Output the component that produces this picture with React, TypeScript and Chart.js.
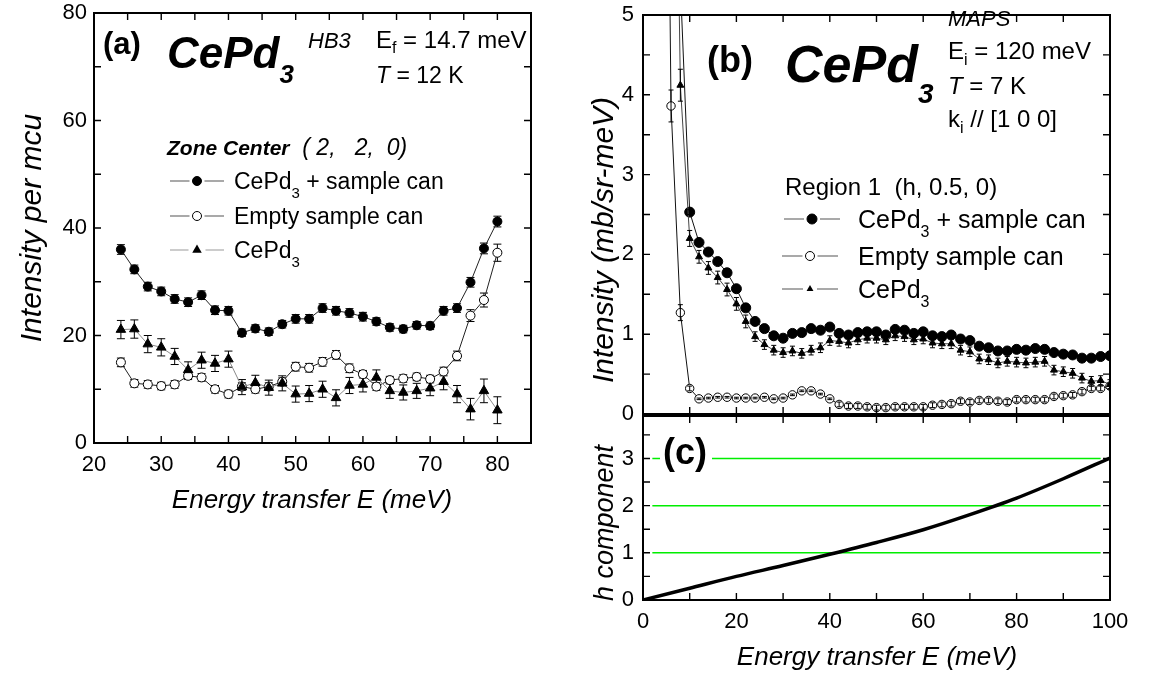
import React, { useEffect, useRef } from 'react';
import { Chart, registerables } from 'chart.js';

Chart.register(...registerables);

const FONT = "'Liberation Sans', Arial, Helvetica, sans-serif";

// ---------- Panel (a): HB3, zone center (2, 2, 0) ----------
const energyA = [24, 26, 28, 30, 32, 34, 36, 38, 40, 42, 44, 46, 48, 50, 52, 54, 56, 58, 60, 62, 64, 66, 68, 70, 72, 74, 76, 78, 80];
const sampleCanA = [36.0, 32.3, 29.1, 28.2, 26.8, 26.2, 27.5, 24.7, 24.6, 20.5, 21.3, 20.7, 22.1, 23.1, 23.1, 25.1, 24.6, 24.2, 23.5, 22.6, 21.5, 21.2, 21.9, 21.8, 24.6, 25.1, 29.9, 36.2, 41.2];
const sampleCanErrA = [0.9, 0.8, 0.8, 0.8, 0.8, 0.8, 0.8, 0.8, 0.8, 0.7, 0.7, 0.7, 0.7, 0.8, 0.8, 0.8, 0.8, 0.8, 0.8, 0.7, 0.7, 0.7, 0.7, 0.7, 0.8, 0.8, 0.9, 1.0, 1.0];
const emptyCanA = [15.0, 11.1, 10.9, 10.6, 10.9, 12.5, 12.2, 10.0, 9.1, 10.5, 10.0, 10.5, 11.4, 14.2, 14.0, 15.1, 16.4, 13.9, 12.8, 10.5, 11.7, 12.0, 12.3, 11.9, 13.3, 16.2, 23.7, 26.6, 35.4];
const emptyCanErrA = [0.8, 0.7, 0.7, 0.7, 0.7, 0.7, 0.7, 0.7, 0.7, 0.7, 0.7, 0.7, 0.7, 0.8, 0.8, 0.8, 0.8, 0.8, 0.7, 0.7, 0.7, 0.7, 0.7, 0.7, 0.8, 0.9, 1.1, 1.3, 1.6];
const cePd3A = [21.1, 21.2, 18.4, 17.8, 16.1, 13.6, 15.4, 14.8, 15.6, 10.4, 11.2, 10.3, 11.1, 9.1, 9.2, 10.0, 8.4, 10.7, 10.9, 12.2, 9.7, 9.4, 9.7, 10.2, 11.4, 9.1, 6.3, 9.7, 6.1];
const cePd3ErrA = [1.7, 1.7, 1.6, 1.6, 1.5, 1.5, 1.5, 1.5, 1.5, 1.4, 1.4, 1.4, 1.4, 1.5, 1.5, 1.5, 1.5, 1.5, 1.4, 1.4, 1.4, 1.4, 1.4, 1.4, 1.5, 1.6, 2.0, 2.2, 2.5];
const ticksAx = [20, 25, 30, 35, 40, 45, 50, 55, 60, 65, 70, 75, 80, 85];
const ticksAy = [0, 10, 20, 30, 40, 50, 60, 70, 80];

// ---------- Panel (b): MAPS, region 1 (h, 0.5, 0) ----------
const energyB = [4, 6, 8, 10, 12, 14, 16, 18, 20, 22, 24, 26, 28, 30, 32, 34, 36, 38, 40, 42, 44, 46, 48, 50, 52, 54, 56, 58, 60, 62, 64, 66, 68, 70, 72, 74, 76, 78, 80, 82, 84, 86, 88, 90, 92, 94, 96, 98, 100];
const sampleCanB = [null, null, 5.4, 2.53, 2.15, 2.03, 1.91, 1.77, 1.57, 1.33, 1.16, 1.07, 0.98, 0.95, 1.01, 1.02, 1.07, 1.05, 1.09, 1.01, 0.99, 1.02, 1.03, 1.03, 0.99, 1.06, 1.05, 1.01, 1.03, 0.98, 0.97, 0.99, 0.94, 0.92, 0.85, 0.83, 0.79, 0.79, 0.81, 0.80, 0.82, 0.81, 0.77, 0.75, 0.74, 0.70, 0.70, 0.72, 0.73];
const sampleCanErrB = [0, 0, 0.05, 0.03, 0.02, 0.02, 0.02, 0.02, 0.02, 0.02, 0.02, 0.02, 0.02, 0.02, 0.02, 0.02, 0.02, 0.02, 0.02, 0.02, 0.02, 0.02, 0.02, 0.02, 0.02, 0.02, 0.02, 0.02, 0.02, 0.02, 0.02, 0.02, 0.02, 0.02, 0.02, 0.02, 0.02, 0.02, 0.02, 0.02, 0.02, 0.02, 0.02, 0.02, 0.02, 0.02, 0.02, 0.02, 0.02];
const emptyCanB = [15, 3.86, 1.27, 0.32, 0.19, 0.20, 0.21, 0.21, 0.20, 0.20, 0.20, 0.21, 0.19, 0.20, 0.24, 0.29, 0.29, 0.25, 0.19, 0.12, 0.10, 0.10, 0.09, 0.08, 0.08, 0.09, 0.09, 0.09, 0.09, 0.11, 0.12, 0.13, 0.16, 0.15, 0.17, 0.17, 0.16, 0.15, 0.18, 0.18, 0.18, 0.18, 0.22, 0.23, 0.24, 0.28, 0.32, 0.32, 0.35];
const emptyCanErrB = [0, 0.2, 0.1, 0.03, 0.01, 0.01, 0.01, 0.01, 0.01, 0.01, 0.01, 0.01, 0.01, 0.01, 0.01, 0.01, 0.01, 0.01, 0.01, 0.03, 0.03, 0.03, 0.03, 0.03, 0.03, 0.03, 0.03, 0.03, 0.03, 0.03, 0.03, 0.03, 0.03, 0.03, 0.03, 0.03, 0.03, 0.03, 0.03, 0.03, 0.03, 0.03, 0.03, 0.03, 0.03, 0.03, 0.03, 0.03, 0.03];
const cePd3B = [null, 12, 4.12, 2.2, 1.97, 1.83, 1.71, 1.56, 1.38, 1.16, 0.97, 0.87, 0.80, 0.77, 0.79, 0.76, 0.80, 0.83, 0.92, 0.91, 0.89, 0.93, 0.95, 0.95, 0.93, 0.98, 0.97, 0.93, 0.94, 0.89, 0.88, 0.88, 0.80, 0.78, 0.69, 0.68, 0.64, 0.66, 0.65, 0.64, 0.65, 0.66, 0.55, 0.53, 0.51, 0.45, 0.41, 0.42, 0.37];
const cePd3ErrB = [0, 0, 0.2, 0.1, 0.08, 0.08, 0.08, 0.08, 0.08, 0.08, 0.06, 0.06, 0.06, 0.06, 0.06, 0.06, 0.06, 0.06, 0.06, 0.06, 0.06, 0.06, 0.06, 0.06, 0.06, 0.06, 0.06, 0.06, 0.06, 0.06, 0.06, 0.06, 0.06, 0.06, 0.06, 0.06, 0.06, 0.06, 0.06, 0.06, 0.06, 0.06, 0.06, 0.06, 0.06, 0.06, 0.06, 0.06, 0.06];
const ticksBx = [0, 10, 20, 30, 40, 50, 60, 70, 80, 90, 100];
const ticksBy = [0, 0.5, 1, 1.5, 2, 2.5, 3, 3.5, 4, 4.5, 5];

// ---------- Panel (c): h component along the scan ----------
const energyC = [0, 10, 20, 30, 40, 50, 60, 70, 80, 90, 100];
const hComponent = [0, 0.25, 0.5, 0.73, 0.97, 1.22, 1.49, 1.81, 2.16, 2.57, 3.01];
const hLevels = [1, 2, 3];
const hLevelSpan = [2, 98];
const ticksCx = [0, 10, 20, 30, 40, 50, 60, 70, 80, 90, 100];
const ticksCy = [0, 0.5, 1, 1.5, 2, 2.5, 3, 3.5];

type Seg = [string, string, number, number?];

function rich(ctx: CanvasRenderingContext2D, x: number, y: number, segs: Seg[]) {
  let cx = x;
  for (const [t, style, size, dy] of segs) {
    ctx.font = `${style} ${size}px ${FONT}`;
    ctx.fillText(t, cx, y + (dy ?? 0));
    cx += ctx.measureText(t).width;
  }
}

function marker(ctx: CanvasRenderingContext2D, kind: string, x: number, y: number, r: number) {
  ctx.beginPath();
  if (kind === 'tri') {
    for (let k = 0; k < 3; k++) {
      const ang = (k * 2 * Math.PI) / 3;
      const px = x + Math.sin(ang) * r;
      const py = y - Math.cos(ang) * r;
      if (k === 0) ctx.moveTo(px, py);
      else ctx.lineTo(px, py);
    }
    ctx.closePath();
    ctx.fillStyle = '#000';
    ctx.fill();
  } else {
    ctx.arc(x, y, r, 0, Math.PI * 2);
    ctx.fillStyle = kind === 'open' ? '#fff' : '#000';
    ctx.fill();
    ctx.lineWidth = 1;
    ctx.strokeStyle = '#000';
    ctx.stroke();
  }
}

function legendRow(ctx: CanvasRenderingContext2D, kind: string, cx: number, y: number, half: number, r: number, color: string) {
  ctx.strokeStyle = color;
  ctx.lineWidth = 1.2;
  ctx.beginPath();
  ctx.moveTo(cx - half, y);
  ctx.lineTo(cx - r - 3, y);
  ctx.moveTo(cx + r + 3, y);
  ctx.lineTo(cx + half, y);
  ctx.stroke();
  marker(ctx, kind, cx, y, r);
}

function vText(ctx: CanvasRenderingContext2D, text: string, x: number, y: number, font: string) {
  ctx.save();
  ctx.translate(x, y);
  ctx.rotate(-Math.PI / 2);
  ctx.font = font;
  ctx.textAlign = 'center';
  ctx.textBaseline = 'middle';
  ctx.fillText(text, 0, 0);
  ctx.restore();
}

function cText(ctx: CanvasRenderingContext2D, text: string, x: number, y: number, font: string) {
  ctx.save();
  ctx.font = font;
  ctx.textAlign = 'center';
  ctx.textBaseline = 'middle';
  ctx.fillText(text, x, y);
  ctx.restore();
}

const pts = (xs: number[], ys: (number | null)[]) => xs.map((x, i) => ({ x, y: ys[i] }));

function scale(min: number, max: number, tickVals: number[], label: (v: number) => string, size: number, axis: 'x' | 'y', show: boolean, pad: number) {
  return {
    type: 'linear',
    min,
    max,
    grid: { display: false, drawTicks: false },
    border: { display: false },
    afterBuildTicks: (s: any) => {
      s.ticks = tickVals.map((v) => ({ value: v }));
    },
    afterFit: (s: any) => {
      if (axis === 'x') s.height = size;
      else s.width = size;
      // the plot area is placed by the layout padding alone
      s.paddingTop = 0;
      s.paddingBottom = 0;
      s.paddingLeft = 0;
      s.paddingRight = 0;
    },
    ticks: {
      display: show,
      autoSkip: false,
      maxRotation: 0,
      minRotation: 0,
      padding: pad,
      color: '#000',
      font: { family: FONT, size: 22 },
      callback: (v: number) => label(Number(v)),
    },
  };
}

// Frame with inward tick marks on all four sides
function framePlugin(lineWidth: number, tickLen: number, step: { x: number; y: number }) {
  return {
    id: 'frame',
    afterDraw(chart: any) {
      const { ctx, chartArea: a, scales } = chart;
      ctx.save();
      ctx.strokeStyle = '#000';
      ctx.lineWidth = 1.4;
      ctx.beginPath();
      for (const t of scales.x.ticks) {
        if (Math.abs(t.value / step.x - Math.round(t.value / step.x)) > 1e-6) continue;
        const px = scales.x.getPixelForValue(t.value);
        ctx.moveTo(px, a.bottom);
        ctx.lineTo(px, a.bottom - tickLen);
        ctx.moveTo(px, a.top);
        ctx.lineTo(px, a.top + tickLen);
      }
      for (const t of scales.y.ticks) {
        if (Math.abs(t.value / step.y - Math.round(t.value / step.y)) > 1e-6) continue;
        const py = scales.y.getPixelForValue(t.value);
        ctx.moveTo(a.left, py);
        ctx.lineTo(a.left + tickLen, py);
        ctx.moveTo(a.right, py);
        ctx.lineTo(a.right - tickLen, py);
      }
      ctx.stroke();
      ctx.lineWidth = lineWidth;
      ctx.strokeRect(a.left, a.top, a.right - a.left, a.bottom - a.top);
      ctx.restore();
    },
  };
}

function errorBarPlugin(after: boolean, cap: number) {
  const draw = (chart: any) => {
    const { ctx, chartArea: a } = chart;
    const ys = chart.scales.y;
    ctx.save();
    ctx.beginPath();
    ctx.rect(a.left, a.top, a.right - a.left, a.bottom - a.top);
    ctx.clip();
    ctx.strokeStyle = '#000';
    ctx.lineWidth = 1;
    chart.data.datasets.forEach((ds: any, i: number) => {
      const errs: number[] | undefined = ds.errors;
      if (!errs) return;
      const meta = chart.getDatasetMeta(i);
      meta.data.forEach((pt: any, j: number) => {
        const v = ds.data[j].y;
        const e = errs[j];
        if (v == null || !e) return;
        const y1 = ys.getPixelForValue(v + e);
        const y2 = ys.getPixelForValue(v - e);
        ctx.beginPath();
        ctx.moveTo(pt.x, y1);
        ctx.lineTo(pt.x, y2);
        ctx.moveTo(pt.x - cap, y1);
        ctx.lineTo(pt.x + cap, y1);
        ctx.moveTo(pt.x - cap, y2);
        ctx.lineTo(pt.x + cap, y2);
        ctx.stroke();
      });
    });
    ctx.restore();
  };
  return after ? { id: 'errorBars', afterDatasetsDraw: draw } : { id: 'errorBars', beforeDatasetsDraw: draw };
}

const common = (padding: any) => ({
  responsive: false,
  animation: false,
  devicePixelRatio: 1,
  events: [],
  layout: { padding },
  plugins: { legend: { display: false }, tooltip: { enabled: false } },
  elements: { line: { tension: 0 } },
});

function configA(): any {
  const notes = {
    id: 'notesA',
    afterDraw(chart: any) {
      const ctx: CanvasRenderingContext2D = chart.ctx;
      ctx.save();
      ctx.fillStyle = '#000';
      vText(ctx, 'Intensity per mcu', 33, 228, `italic 30px ${FONT}`);
      cText(ctx, 'Energy transfer E (meV)', 312, 501, `italic 26px ${FONT}`);
      rich(ctx, 103, 54, [['(a)', 'bold', 31]]);
      rich(ctx, 167, 68, [['CePd', 'italic bold', 44], ['3', 'italic bold', 26, 15]]);
      rich(ctx, 308, 48, [['HB3', 'italic', 22]]);
      rich(ctx, 376, 48, [['E', '', 24], ['f', '', 16, 5], [' = 14.7 meV', '', 24]]);
      rich(ctx, 376, 83, [['T', 'italic', 23], [' = 12 K', '', 23]]);
      rich(ctx, 167, 155, [['Zone Center', 'italic bold', 21], ['  ( 2,   2,  0)', 'italic', 23]]);
      legendRow(ctx, 'filled', 197, 181, 27, 4.5, '#555');
      legendRow(ctx, 'open', 197, 216, 27, 4.5, '#555');
      legendRow(ctx, 'tri', 197, 250, 27, 5.5, '#999');
      ctx.fillStyle = '#000';
      rich(ctx, 234, 189, [['CePd', '', 23], ['3', '', 15, 9], [' + sample can', '', 23]]);
      rich(ctx, 234, 224, [['Empty sample can', '', 23]]);
      rich(ctx, 234, 258, [['CePd', '', 23], ['3', '', 15, 9]]);
      ctx.restore();
    },
  };
  return {
    type: 'line',
    data: {
      datasets: [
        { data: pts(energyA, cePd3A), errors: cePd3ErrA, borderColor: '#8a8a8a', borderWidth: 1, pointStyle: 'triangle', pointRadius: 5.5, pointBackgroundColor: '#000', pointBorderColor: '#000', pointBorderWidth: 1 },
        { data: pts(energyA, emptyCanA), errors: emptyCanErrA, borderColor: '#222', borderWidth: 1, pointStyle: 'circle', pointRadius: 4.5, pointBackgroundColor: '#fff', pointBorderColor: '#000', pointBorderWidth: 1 },
        { data: pts(energyA, sampleCanA), errors: sampleCanErrA, borderColor: '#222', borderWidth: 1, pointStyle: 'circle', pointRadius: 4.5, pointBackgroundColor: '#000', pointBorderColor: '#000', pointBorderWidth: 1 },
      ],
    },
    options: {
      ...common({ left: 0, top: 13, right: 29, bottom: 0 }),
      scales: {
        x: scale(20, 85, ticksAx, (v) => (v % 10 === 0 && v <= 80 ? String(v) : ''), 77, 'x', true, 9),
        y: scale(0, 80, ticksAy, (v) => (v % 20 === 0 ? String(v) : ''), 94, 'y', true, 7),
      },
    },
    plugins: [errorBarPlugin(false, 4), framePlugin(2, 7, { x: 5, y: 10 }), notes],
  };
}

function configB(): any {
  const notes = {
    id: 'notesB',
    afterDraw(chart: any) {
      const ctx: CanvasRenderingContext2D = chart.ctx;
      ctx.save();
      ctx.translate(-560, 0);
      ctx.fillStyle = '#000';
      vText(ctx, 'Intensity (mb/sr-meV)', 605, 240, `italic 30px ${FONT}`);
      rich(ctx, 707, 72, [['(b)', 'bold', 36]]);
      rich(ctx, 785, 82, [['CePd', 'italic bold', 52], ['3', 'italic bold', 28, 21]]);
      rich(ctx, 948, 26, [['MAPS', 'italic', 22]]);
      rich(ctx, 948, 59, [['E', '', 24], ['i', '', 16, 6], [' = 120 meV', '', 24]]);
      rich(ctx, 948, 94, [['T', 'italic', 24], [' = 7 K', '', 24]]);
      rich(ctx, 948, 127, [['k', '', 24], ['i', '', 16, 6], [' // [1 0 0]', '', 24]]);
      rich(ctx, 785, 195, [['Region 1  (h, 0.5, 0)', '', 24]]);
      legendRow(ctx, 'filled', 812, 219, 28, 5, '#555');
      legendRow(ctx, 'open', 810, 256, 28, 4.5, '#555');
      legendRow(ctx, 'tri', 810, 289, 28, 4, '#555');
      ctx.fillStyle = '#000';
      rich(ctx, 858, 228, [['CePd', '', 25], ['3', '', 16, 9], [' + sample can', '', 25]]);
      rich(ctx, 858, 265, [['Empty sample can', '', 25]]);
      rich(ctx, 858, 298, [['CePd', '', 25], ['3', '', 16, 9]]);
      ctx.restore();
    },
  };
  return {
    type: 'line',
    data: {
      datasets: [
        { data: pts(energyB, cePd3B), errors: cePd3ErrB, borderColor: '#444', borderWidth: 1, pointStyle: 'triangle', pointRadius: 4, pointBackgroundColor: '#000', pointBorderColor: '#000', pointBorderWidth: 1 },
        { data: pts(energyB, emptyCanB), errors: emptyCanErrB, borderColor: '#111', borderWidth: 1, pointStyle: 'circle', pointRadius: 4.2, pointBackgroundColor: '#fff', pointBorderColor: '#000', pointBorderWidth: 1 },
        { data: pts(energyB, sampleCanB), errors: sampleCanErrB, borderColor: '#111', borderWidth: 1, pointStyle: 'circle', pointRadius: 5, pointBackgroundColor: '#000', pointBorderColor: '#000', pointBorderWidth: 1 },
      ],
    },
    options: {
      ...common({ left: 0, top: 15, right: 47, bottom: 0 }),
      scales: {
        x: scale(0, 100, ticksBx, () => '', 5, 'x', false, 0),
        y: scale(0, 5, ticksBy, (v) => (Number.isInteger(v) ? String(v) : ''), 83, 'y', true, 9),
      },
    },
    plugins: [errorBarPlugin(true, 2.5), framePlugin(2, 7, { x: 10, y: 0.5 }), notes],
  };
}

function configC(): any {
  const label = {
    id: 'labelC',
    afterDatasetsDraw(chart: any) {
      const ctx: CanvasRenderingContext2D = chart.ctx;
      ctx.save();
      ctx.translate(-560, -406);
      ctx.fillStyle = '#fff';
      ctx.fillRect(660, 433, 52, 40);
      ctx.fillStyle = '#000';
      rich(ctx, 663, 464, [['(c)', 'bold', 36]]);
      ctx.restore();
    },
    afterDraw(chart: any) {
      const ctx: CanvasRenderingContext2D = chart.ctx;
      ctx.save();
      ctx.translate(-560, -406);
      ctx.fillStyle = '#000';
      vText(ctx, 'h component', 605, 523, `italic 27px ${FONT}`);
      cText(ctx, 'Energy transfer E (meV)', 877, 658, `italic 26px ${FONT}`);
      ctx.restore();
    },
  };
  const levelSets = hLevels.map((h) => ({
    data: hLevelSpan.map((x) => ({ x, y: h })),
    borderColor: '#00ee00',
    borderWidth: 1.5,
    pointRadius: 0,
  }));
  return {
    type: 'line',
    data: {
      datasets: [
        { data: pts(energyC, hComponent), borderColor: '#000', borderWidth: 3.5, pointRadius: 0, cubicInterpolationMode: 'monotone' },
        ...levelSets,
      ],
    },
    options: {
      ...common({ left: 0, top: 10, right: 47, bottom: 0 }),
      scales: {
        x: scale(0, 100, ticksCx, (v) => (v % 20 === 0 ? String(v) : ''), 77, 'x', true, 9),
        y: scale(0, 3.9, ticksCy, (v) => (Number.isInteger(v) ? String(v) : ''), 83, 'y', true, 9),
      },
    },
    plugins: [framePlugin(2, 7, { x: 10, y: 0.5 }), label],
  };
}

export default function App() {
  const refA = useRef<HTMLCanvasElement>(null);
  const refB = useRef<HTMLCanvasElement>(null);
  const refC = useRef<HTMLCanvasElement>(null);

  useEffect(() => {
    const charts = [
      new Chart(refA.current as HTMLCanvasElement, configA()),
      new Chart(refB.current as HTMLCanvasElement, configB()),
      new Chart(refC.current as HTMLCanvasElement, configC()),
    ];
    return () => charts.forEach((c) => c.destroy());
  }, []);

  return (
    <div style={{ position: 'absolute', left: 0, top: 0, width: 1157, height: 677, background: '#fff', overflow: 'hidden' }}>
      <canvas ref={refA} width={560} height={520} style={{ position: 'absolute', left: 0, top: 0 }} />
      <canvas ref={refB} width={597} height={420} style={{ position: 'absolute', left: 560, top: 0 }} />
      <canvas ref={refC} width={597} height={271} style={{ position: 'absolute', left: 560, top: 406 }} />
    </div>
  );
}
